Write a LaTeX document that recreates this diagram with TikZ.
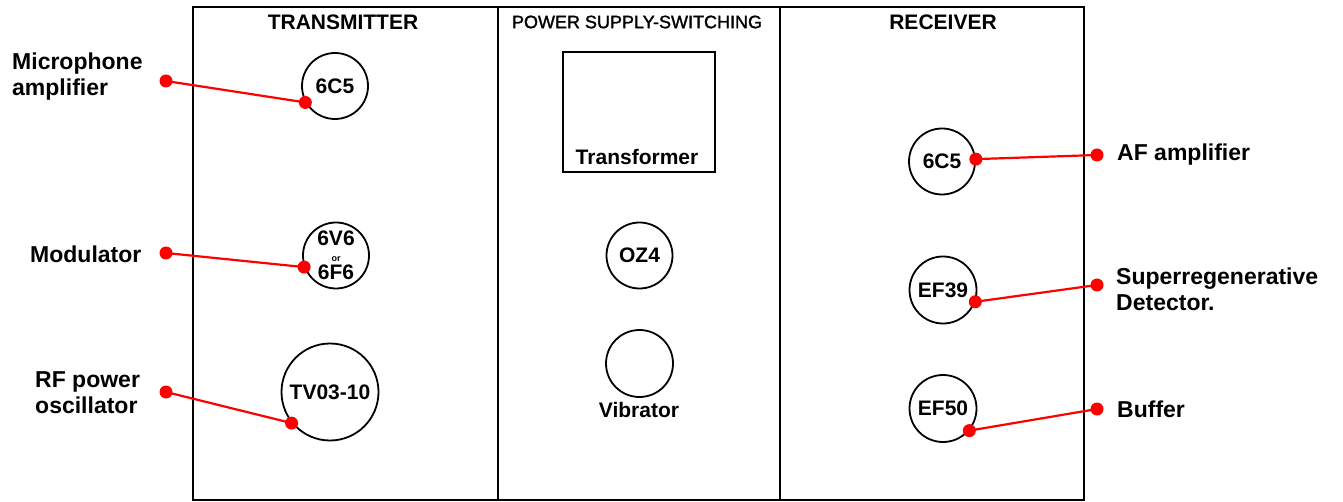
\documentclass[tikz,border=0pt]{standalone}
\usepackage{fontspec}
\setmainfont{Liberation Sans}
\newfontfamily\psfont[FakeBold=1.5]{Liberation Sans}
\tikzset{
  panel/.style={draw=black, line width=1.8pt},
  tube/.style={draw=black, line width=1.8pt, circle, inner sep=0pt, minimum size=#1, font=\fontsize{21}{23}\selectfont\bfseries, align=center},
  title/.style={font=\fontsize{21}{24}\selectfont\bfseries, inner sep=0pt},
  lbl/.style={font=\fontsize{23}{26}\selectfont\bfseries, align=left, anchor=west, inner sep=0pt},
  lead/.style={draw=red, line width=2.2pt},
  dot/.style={fill=red}
}
\begin{document}
\begin{tikzpicture}[x=1pt,y=-1pt]
\useasboundingbox (0,0) rectangle (1343,502);
% panels
\draw[panel] (193,7) rectangle (1084,500);
\draw[panel] (498,7) -- (498,500);
\draw[panel] (780,7) -- (780,500);
% titles
\node[title] (ttx) at (343,22) {TRANSMITTER};
\node[font=\fontsize{18}{20}\selectfont\psfont, inner sep=0pt] (tps) at (637,22) {POWER SUPPLY-SWITCHING};
\node[title] (trx) at (943,22) {RECEIVER};
% transmitter tubes
\node[tube=66pt] (mic) at (335,86) {6C5};
\node[tube=66pt] (mod) at (336,255.5) {6V6\\[-7pt]{\fontsize{9}{9}\selectfont or}\\[-5pt]6F6};
\node[tube=97pt] (rf) at (330,392) {TV03-10};
% power supply
\node[draw=black, line width=1.8pt, minimum width=152pt, minimum height=120pt, inner sep=0pt] (tr) at (639,112) {};
\node[font=\fontsize{21}{23}\selectfont\bfseries, inner sep=0pt] (trl) at (637,157) {Transformer};
\node[tube=66pt] (oz) at (639.5,255.5) {OZ4};
\node[tube=67pt] (vib) at (639.5,363.5) {};
\node[font=\fontsize{21}{23}\selectfont\bfseries, inner sep=0pt] (vibl) at (639,410) {Vibrator};
% receiver tubes
\node[tube=66pt] (af) at (942,161.5) {6C5};
\node[tube=67pt] (det) at (943,290) {EF39};
\node[tube=67pt] (buf) at (943,408.5) {EF50};
% labels
\node[lbl] (lmic) at (12,77) {Microphone\\amplifier};
\node[lbl] (lmod) at (30,254) {Modulator};
\node[lbl] (lrf) at (35,393) {RF power\\oscillator};
\node[lbl] (laf) at (1117,155) {AF amplifier};
\node[lbl] (ldet) at (1116,289) {Superregenerative\\Detector.};
\node[lbl] (lbuf) at (1117,409) {Buffer};
% lead ends
\coordinate (cmic) at (166,81);
\coordinate (cmod) at (166,253);
\coordinate (crf) at (166,392);
\coordinate (caf) at (1097,155);
\coordinate (cdet) at (1097,285);
\coordinate (cbuf) at (1097,409);
\coordinate (pmic) at (mic.209);
\coordinate (pmod) at (mod.200);
\coordinate (prf) at (rf.219);
\coordinate (paf) at (af.4);
\coordinate (pdet) at (det.340);
\coordinate (pbuf) at (buf.320);
% leads
\draw[lead] (cmic) -- (pmic);
\draw[lead] (cmod) -- (pmod);
\draw[lead] (crf) -- (prf);
\draw[lead] (paf) -- (caf);
\draw[lead] (pdet) -- (cdet);
\draw[lead] (pbuf) -- (cbuf);
\foreach \p in {cmic,cmod,crf,caf,cdet,cbuf,pmic,pmod,prf,paf,pdet,pbuf}
  \fill[dot] (\p) circle (6.5pt);
\end{tikzpicture}
\end{document}
